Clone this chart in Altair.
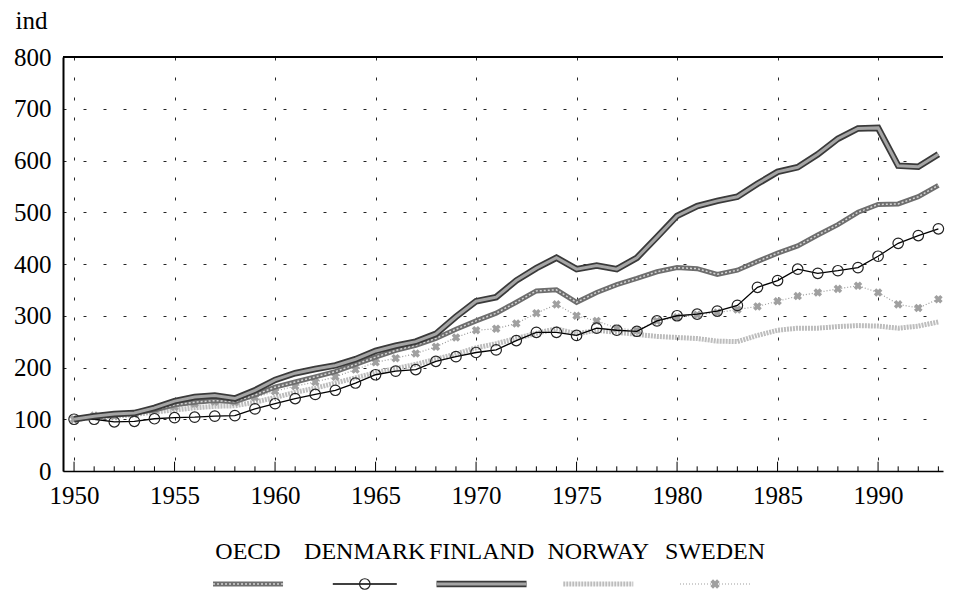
import altair as alt
import pandas as pd

FONT = "Liberation Serif"

years = list(range(1950, 1994))
series_names = ["OECD", "DENMARK", "FINLAND", "NORWAY", "SWEDEN"]

oecd = [100, 106, 108, 113, 118, 128, 133, 136, 134, 147,
        162, 172, 182, 192, 206, 220, 233, 243, 256, 274,
        290, 305, 326, 348, 350, 326, 345, 360, 372, 385,
        393, 391, 380, 388, 405, 421, 435, 456, 476, 500,
        515, 516, 530, 552]
denmark = [100, 100, 95, 96, 101, 103, 104, 106, 107, 120,
           130, 140, 148, 156, 170, 186, 193, 196, 212, 221,
           229, 234, 252, 268, 268, 262, 276, 272, 270, 290,
           300, 303, 309, 320, 355, 368, 390, 382, 387, 393,
           415, 440, 455, 468]
finland = [100, 106, 110, 112, 122, 135, 143, 146, 140, 156,
           176, 189, 197, 204, 216, 232, 242, 250, 265, 298,
           328, 336, 368, 392, 412, 390, 397, 390, 412, 452,
           493, 512, 522, 530, 555, 578, 587, 612, 642, 662,
           663, 590, 588, 612]
norway = [100, 103, 106, 109, 114, 118, 122, 125, 126, 133,
          142, 152, 160, 170, 180, 190, 198, 206, 216, 226,
          238, 246, 256, 266, 275, 265, 272, 268, 264, 260,
          258, 256, 251, 250, 262, 272, 276, 276, 279, 281,
          280, 276, 280, 288]
sweden = [100, 107, 106, 110, 117, 124, 130, 134, 133, 142,
          154, 164, 172, 182, 196, 210, 218, 227, 240, 258,
          272, 275, 285, 305, 322, 300, 290, 276, 272, 290,
          297, 302, 306, 312, 318, 328, 338, 345, 352, 358,
          345, 322, 315, 332]

x_ticks = [1950, 1955, 1960, 1965, 1970, 1975, 1980, 1985, 1990]
y_ticks = [0, 100, 200, 300, 400, 500, 600, 700, 800]

values_by_series = {"OECD": oecd, "DENMARK": denmark, "FINLAND": finland,
                    "NORWAY": norway, "SWEDEN": sweden}
rows = []
for name in series_names:
    for yr, v in zip(years, values_by_series[name]):
        rows.append({"year": yr, "value": v, "series": name})
df = pd.DataFrame(rows)

x_enc = alt.X("year:Q",
              scale=alt.Scale(domain=[1949.45, 1993.23], nice=False, zero=False),
              axis=alt.Axis(values=x_ticks, format="d", title=None,
                            labelFont=FONT, labelFontSize=25, labelColor="black",
                            labelPadding=12, ticks=False, labelFlush=False,
                            domainColor="black", domainWidth=1.5,
                            grid=True, gridColor="black", gridDash=[3, 17],
                            gridWidth=1, gridOpacity=0.85))
y_enc = alt.Y("value:Q",
              scale=alt.Scale(domain=[0, 800], nice=False),
              axis=alt.Axis(values=y_ticks, title="ind", titleAngle=0,
                            titleX=-48, titleY=-29, titleAlign="left",
                            titleBaseline="alphabetic", titleFont=FONT,
                            titleFontSize=25, titleFontWeight="normal",
                            titleColor="black",
                            labelFont=FONT, labelFontSize=25, labelColor="black",
                            labelPadding=12, ticks=False,
                            domainColor="black", domainWidth=2,
                            grid=True, gridColor="black", gridDash=[3, 17],
                            gridWidth=1, gridOpacity=0.85))

base = alt.Chart(df).encode(x=x_enc, y=y_enc)

def sel(name):
    return base.transform_filter(alt.datum.series == name)

norway_line = sel("NORWAY").mark_line(color="#bdbdbd", strokeWidth=5, strokeDash=[2, 1])
sweden_line = sel("SWEDEN").mark_line(color="#9a9a9a", strokeWidth=1.2, strokeDash=[1, 2])
sweden_pts = sel("SWEDEN").mark_point(shape="cross", angle=45, filled=True, size=75,
                                      color="#a0a0a0", opacity=1)
denmark_line = sel("DENMARK").mark_line(color="black", strokeWidth=1.3)
denmark_pts = sel("DENMARK").mark_point(shape="circle", filled=False, size=110,
                                        color="#222222", strokeWidth=1.2, opacity=1)
oecd_line = sel("OECD").mark_line(color="#6e6e6e", strokeWidth=5)
oecd_line2 = sel("OECD").mark_line(color="#d4d4d4", strokeWidth=1.5, strokeDash=[2, 2])
fin_line = sel("FINLAND").mark_line(color="#3a3a3a", strokeWidth=6.5)
fin_line2 = sel("FINLAND").mark_line(color="#a5a5a5", strokeWidth=3)

tick_df = pd.DataFrame({"year": years})
minor_ticks = alt.Chart(tick_df).transform_calculate(
    value="0",
    value2="datum.year % 5 == 0 ? 18 : 9"
).mark_rule(color="black", strokeWidth=1).encode(
    x=x_enc, y=y_enc, y2=alt.Y2("value2:Q"),
)

top_df = pd.DataFrame({"value": [800]})
top_border = alt.Chart(top_df).mark_rule(color="black", strokeWidth=2).encode(y=y_enc)

main = alt.layer(
    norway_line, sweden_line, sweden_pts, denmark_line, denmark_pts,
    oecd_line, oecd_line2, fin_line, fin_line2, minor_ticks, top_border
).properties(width=880, height=414)

# custom legend: labels above line samples
leg_df = pd.DataFrame({"series": series_names, "pos": list(range(len(series_names)))})
lx = alt.X("pos:Q", scale=alt.Scale(domain=[-1.585, 5.61], nice=False, zero=False), axis=None)
lx2 = alt.X2("pos:Q")
leg_base = alt.Chart(leg_df).encode(x=lx)

def lsel(name):
    return leg_base.transform_filter(alt.datum.series == name)

SW_Y = 44
leg_text = leg_base.mark_text(font=FONT, fontSize=24, baseline="middle",
                              color="black").encode(y=alt.value(12), text="series:N")
l_oecd = lsel("OECD").mark_rule(color="#6e6e6e", strokeWidth=5, xOffset=-35, x2Offset=35).encode(x2=lx2, y=alt.value(SW_Y))
l_oecd2 = lsel("OECD").mark_rule(color="#d4d4d4", strokeWidth=1.5, strokeDash=[2, 2], xOffset=-35, x2Offset=35).encode(x2=lx2, y=alt.value(SW_Y))
l_den = lsel("DENMARK").mark_rule(color="black", strokeWidth=1.3, xOffset=-32, x2Offset=32).encode(x2=lx2, y=alt.value(SW_Y))
l_den_pt = lsel("DENMARK").mark_point(shape="circle", filled=False, size=110, color="#222222", strokeWidth=1.2, opacity=1).encode(y=alt.value(SW_Y))
l_fin = lsel("FINLAND").mark_rule(color="#3a3a3a", strokeWidth=6.5, xOffset=-45, x2Offset=45).encode(x2=lx2, y=alt.value(SW_Y))
l_fin2 = lsel("FINLAND").mark_rule(color="#a5a5a5", strokeWidth=3, xOffset=-45, x2Offset=45).encode(x2=lx2, y=alt.value(SW_Y))
l_nor = lsel("NORWAY").mark_rule(color="#bdbdbd", strokeWidth=5, strokeDash=[2, 1], xOffset=-35, x2Offset=35).encode(x2=lx2, y=alt.value(SW_Y))
l_swe = lsel("SWEDEN").mark_rule(color="#9a9a9a", strokeWidth=1.2, strokeDash=[1, 2], xOffset=-35, x2Offset=35).encode(x2=lx2, y=alt.value(SW_Y))
l_swe_pt = lsel("SWEDEN").mark_point(shape="cross", angle=45, filled=True, size=90, color="#a0a0a0", opacity=1).encode(y=alt.value(SW_Y))

legend = alt.layer(leg_text, l_oecd, l_oecd2, l_den, l_den_pt, l_fin, l_fin2,
                   l_nor, l_swe, l_swe_pt).properties(width=840, height=52)

chart = alt.vconcat(main, legend, spacing=32).properties(
    padding={"left": 5, "top": 0, "right": 0, "bottom": 0}
).configure_view(stroke=None).resolve_scale(x="independent", y="independent")

chart.save("out.html", embed_options={"renderer": "svg", "actions": False})
